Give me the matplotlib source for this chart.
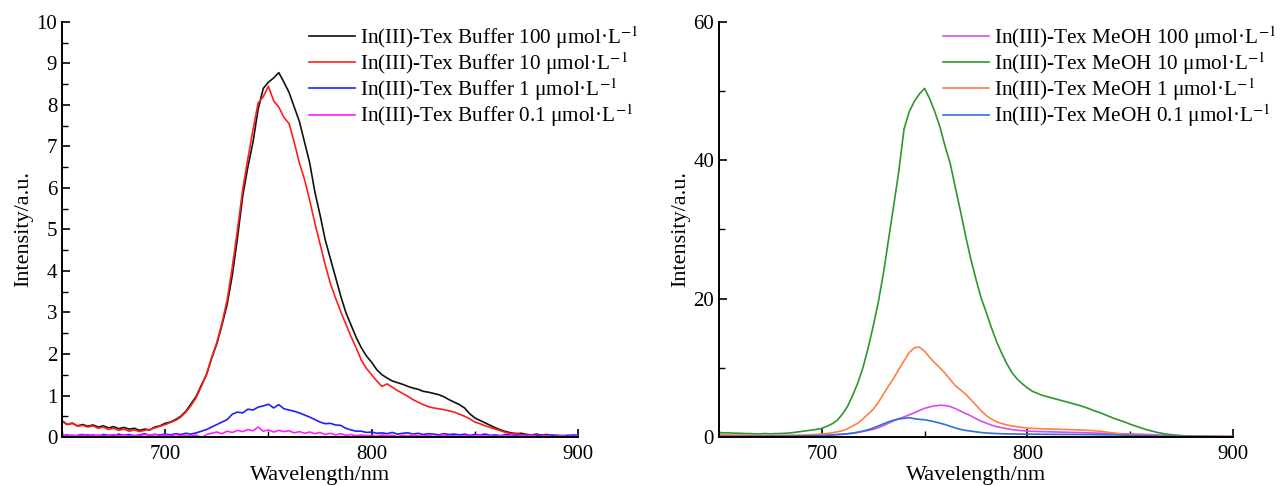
import matplotlib
matplotlib.use("Agg")
import matplotlib.pyplot as plt
import numpy as np
from matplotlib.ticker import MultipleLocator

plt.rcParams["font.family"] = ["Liberation Serif", "DejaVu Serif"]
plt.rcParams["mathtext.fontset"] = "stix"

# wavelength grid, nm
wl = np.arange(650, 900.01, 2.5)

# aqueous buffer spectra
buf_100 = [0.38, 0.30, 0.33, 0.27, 0.30, 0.26, 0.29, 0.24, 0.27, 0.22,
           0.25, 0.20, 0.23, 0.19, 0.21, 0.16, 0.19, 0.17, 0.24, 0.27,
           0.33, 0.36, 0.42, 0.50, 0.62, 0.80, 0.98, 1.25, 1.50, 1.90,
           2.25, 2.70, 3.20, 3.90, 4.80, 5.80, 6.50, 7.10, 7.90, 8.40,
           8.55, 8.65, 8.78, 8.55, 8.30, 7.95, 7.60, 7.10, 6.60, 5.90,
           5.35, 4.75, 4.30, 3.85, 3.40, 3.00, 2.70, 2.40, 2.15, 1.95,
           1.80, 1.62, 1.50, 1.42, 1.35, 1.31, 1.27, 1.22, 1.18, 1.15,
           1.10, 1.08, 1.05, 1.02, 0.97, 0.90, 0.84, 0.78, 0.70, 0.56,
           0.46, 0.40, 0.34, 0.28, 0.22, 0.17, 0.13, 0.10, 0.08, 0.09,
           0.06, 0.05, 0.07, 0.04, 0.06, 0.03, 0.04, 0.02, 0.04, 0.02,
           0.02]
buf_10 = [0.40, 0.30, 0.34, 0.26, 0.28, 0.24, 0.27, 0.21, 0.24, 0.18,
          0.21, 0.16, 0.19, 0.14, 0.17, 0.13, 0.16, 0.18, 0.22, 0.26,
          0.30, 0.35, 0.40, 0.48, 0.60, 0.76, 0.95, 1.22, 1.52, 1.92,
          2.28, 2.75, 3.30, 4.10, 5.00, 5.95, 6.70, 7.40, 8.05, 8.20,
          8.45, 8.10, 7.95, 7.70, 7.55, 7.10, 6.60, 6.20, 5.70, 5.15,
          4.65, 4.15, 3.70, 3.35, 3.02, 2.72, 2.42, 2.15, 1.85, 1.65,
          1.50, 1.35, 1.22, 1.28, 1.20, 1.12, 1.05, 0.98, 0.90, 0.84,
          0.78, 0.73, 0.70, 0.68, 0.66, 0.63, 0.60, 0.55, 0.50, 0.44,
          0.36, 0.32, 0.27, 0.23, 0.19, 0.15, 0.11, 0.08, 0.09, 0.05,
          0.06, 0.04, 0.05, 0.03, 0.04, 0.02, 0.03, 0.02, 0.02, 0.01,
          0.01]
buf_1 = [0.03, 0.05, 0.02, 0.04, 0.06, 0.03, 0.05, 0.02, 0.06, 0.04,
         0.03, 0.07, 0.04, 0.06, 0.03, 0.05, 0.08, 0.04, 0.06, 0.05,
         0.07, 0.05, 0.08, 0.06, 0.09, 0.07, 0.10, 0.14, 0.18, 0.24,
         0.30, 0.36, 0.42, 0.55, 0.60, 0.58, 0.67, 0.65, 0.72, 0.75,
         0.79, 0.70, 0.78, 0.68, 0.65, 0.62, 0.58, 0.53, 0.48, 0.42,
         0.36, 0.32, 0.33, 0.29, 0.28, 0.21, 0.17, 0.14, 0.14, 0.11,
         0.12, 0.09, 0.10, 0.08, 0.11, 0.07, 0.09, 0.10, 0.07, 0.09,
         0.06, 0.08, 0.07, 0.05, 0.08, 0.06, 0.07, 0.05, 0.07, 0.04,
         0.06, 0.05, 0.07, 0.04, 0.05, 0.03, 0.06, 0.04, 0.05, 0.03,
         0.04, 0.05, 0.03, 0.04, 0.02, 0.05, 0.03, 0.04, 0.03, 0.05,
         0.04]
buf_01 = [0.06, 0.03, 0.05, 0.02, 0.04, 0.06, 0.03, 0.05, 0.02, 0.04,
          0.06, 0.03, 0.05, 0.02, 0.04, 0.03, 0.06, 0.04, 0.07, 0.03,
          0.05, 0.02, 0.06, 0.03, 0.04, 0.02, 0.05, -0.02, 0.06, 0.09,
          0.12, 0.08, 0.14, 0.11, 0.16, 0.13, 0.18, 0.15, 0.24, 0.14,
          0.17, 0.12, 0.16, 0.13, 0.15, 0.10, 0.13, 0.09, 0.12, 0.08,
          0.11, 0.06, 0.09, 0.05, 0.08, 0.04, 0.06, 0.03, 0.05, 0.03,
          0.04, 0.02, 0.05, 0.03, 0.04, 0.01, 0.04, 0.02, 0.05, 0.03,
          0.02, 0.04, 0.01, 0.03, 0.05, 0.02, 0.03, 0.01, 0.04, 0.02,
          0.03, 0.05, 0.02, 0.03, 0.01, 0.04, 0.02, 0.03, 0.01, 0.03,
          0.02, 0.04, 0.01, 0.02, 0.03, 0.01, 0.02, 0.03, 0.01, 0.02,
          0.02]

# methanol spectra
meoh_100 = [0.20, 0.20, 0.20, 0.19, 0.19, 0.19, 0.18, 0.18, 0.18, 0.18,
            0.18, 0.18, 0.18, 0.18, 0.19, 0.19, 0.20, 0.21, 0.22, 0.23,
            0.25, 0.27, 0.30, 0.35, 0.40, 0.47, 0.55, 0.65, 0.80, 0.95,
            1.10, 1.35, 1.65, 2.00, 2.35, 2.65, 2.90, 3.20, 3.50, 3.85,
            4.15, 4.35, 4.50, 4.60, 4.55, 4.40, 4.10, 3.75, 3.40, 3.05,
            2.65, 2.30, 2.00, 1.72, 1.50, 1.35, 1.20, 1.08, 0.98, 0.92,
            0.86, 0.82, 0.80, 0.78, 0.76, 0.74, 0.72, 0.70, 0.68, 0.66,
            0.64, 0.62, 0.60, 0.58, 0.56, 0.54, 0.52, 0.50, 0.48, 0.46,
            0.45, 0.42, 0.40, 0.37, 0.34, 0.31, 0.28, 0.25, 0.22, 0.20,
            0.18, 0.16, 0.15, 0.14, 0.13, 0.12, 0.12, 0.11, 0.11, 0.10,
            0.10]
meoh_10 = [0.65, 0.60, 0.60, 0.55, 0.55, 0.50, 0.50, 0.45, 0.45, 0.50,
           0.45, 0.50, 0.50, 0.55, 0.60, 0.70, 0.80, 0.90, 1.00, 1.10,
           1.25, 1.55, 1.90, 2.40, 3.30, 4.40, 6.00, 7.80, 10.0, 12.8,
           16.0, 19.5, 23.7, 28.6, 33.5, 38.5, 44.5, 47.0, 48.5, 49.6,
           50.4, 48.9, 47.0, 44.8, 42.0, 39.5, 36.0, 32.6, 29.0, 25.7,
           22.8, 20.1, 18.0, 15.8, 13.8, 12.1, 10.6, 9.30, 8.40, 7.70,
           7.10, 6.60, 6.30, 6.00, 5.80, 5.60, 5.40, 5.20, 5.00, 4.80,
           4.60, 4.35, 4.10, 3.80, 3.55, 3.25, 2.95, 2.65, 2.40, 2.15,
           1.85, 1.60, 1.35, 1.10, 0.90, 0.70, 0.55, 0.42, 0.33, 0.26,
           0.20, 0.16, 0.13, 0.11, 0.09, 0.08, 0.07, 0.06, 0.05, 0.05,
           0.04]
meoh_1 = [0.30, 0.30, 0.29, 0.28, 0.28, 0.27, 0.27, 0.26, 0.26, 0.25,
          0.25, 0.25, 0.25, 0.25, 0.25, 0.26, 0.28, 0.30, 0.34, 0.38,
          0.45, 0.52, 0.60, 0.75, 0.90, 1.20, 1.60, 2.00, 2.60, 3.30,
          4.00, 5.00, 6.20, 7.40, 8.50, 9.80, 11.0, 12.2, 12.9, 13.0,
          12.4, 11.5, 10.7, 10.0, 9.20, 8.30, 7.40, 6.80, 6.20, 5.40,
          4.60, 3.80, 3.10, 2.60, 2.20, 1.95, 1.75, 1.60, 1.48, 1.38,
          1.30, 1.25, 1.22, 1.19, 1.16, 1.14, 1.12, 1.10, 1.08, 1.05,
          1.02, 1.00, 0.95, 0.90, 0.85, 0.75, 0.65, 0.55, 0.45, 0.40,
          0.35, 0.31, 0.27, 0.24, 0.21, 0.18, 0.16, 0.14, 0.12, 0.11,
          0.10, 0.09, 0.08, 0.07, 0.07, 0.06, 0.06, 0.05, 0.05, 0.05,
          0.05]
meoh_01 = [0.10, 0.10, 0.10, 0.11, 0.11, 0.11, 0.12, 0.12, 0.12, 0.12,
           0.13, 0.13, 0.13, 0.14, 0.14, 0.15, 0.16, 0.17, 0.18, 0.19,
           0.20, 0.25, 0.30, 0.35, 0.40, 0.47, 0.55, 0.70, 0.85, 1.05,
           1.30, 1.60, 1.90, 2.20, 2.45, 2.60, 2.70, 2.80, 2.65, 2.55,
           2.50, 2.35, 2.20, 2.00, 1.80, 1.55, 1.30, 1.10, 0.95, 0.85,
           0.75, 0.65, 0.58, 0.54, 0.50, 0.47, 0.45, 0.44, 0.43, 0.42,
           0.41, 0.40, 0.40, 0.39, 0.39, 0.38, 0.38, 0.37, 0.37, 0.36,
           0.36, 0.35, 0.35, 0.34, 0.33, 0.32, 0.31, 0.30, 0.28, 0.26,
           0.24, 0.22, 0.20, 0.18, 0.16, 0.14, 0.12, 0.11, 0.10, 0.09,
           0.08, 0.07, 0.07, 0.06, 0.06, 0.05, 0.05, 0.05, 0.04, 0.04,
           0.04]

unit = r" μmol·L$^{-1}$"
buf_labels = ["In(III)-Tex Buffer 100" + unit, "In(III)-Tex Buffer 10" + unit,
              "In(III)-Tex Buffer 1" + unit, "In(III)-Tex Buffer 0.1" + unit]
meoh_labels = ["In(III)-Tex MeOH 100" + unit, "In(III)-Tex MeOH 10" + unit,
               "In(III)-Tex MeOH 1" + unit, "In(III)-Tex MeOH 0.1" + unit]
buf_colors = ["#111111", "#ff1e1e", "#2020ff", "#ff20ff"]
meoh_colors = ["#d84cf0", "#2e962e", "#ff8040", "#2f70e0"]

fig = plt.figure(figsize=(12.82, 4.86), dpi=100)
ax1 = fig.add_axes([0.0484, 0.1008, 0.4025, 0.854])
ax2 = fig.add_axes([0.5608, 0.1008, 0.4010, 0.854])


def style(ax, ymax, ymajor, yminor):
    ax.set_xlim(650, 900)
    ax.set_ylim(0, ymax)
    ax.spines["top"].set_visible(False)
    ax.spines["right"].set_visible(False)
    for s in ("left", "bottom"):
        ax.spines[s].set_linewidth(1.4)
    ax.xaxis.set_major_locator(MultipleLocator(100))
    ax.xaxis.set_minor_locator(MultipleLocator(50))
    ax.yaxis.set_major_locator(MultipleLocator(ymajor))
    ax.yaxis.set_minor_locator(MultipleLocator(yminor))
    ax.tick_params(which="major", direction="in", length=6, width=1.2, labelsize=15)
    ax.tick_params(which="minor", direction="in", length=4, width=1.0)
    ax.tick_params(axis="x", which="major", pad=6)
    ax.set_xlabel("Wavelength/nm", fontsize=16, labelpad=1)
    ax.set_ylabel("Intensity/a.u.", fontsize=16, labelpad=2)


def legend(ax, xr):
    ax.legend(loc="upper right", bbox_to_anchor=(xr, 0.968), bbox_transform=fig.transFigure,
              frameon=False, fontsize=15.3, labelspacing=-0.03, handlelength=2.15,
              handletextpad=0.25, borderaxespad=0)


series = [buf_100, buf_10, buf_1, buf_01]
for y, c, lab in zip(series, buf_colors, buf_labels):
    ax1.plot(wl, y, color=c, lw=1.2, label=lab)
style(ax1, 10, 1, 0.5)
legend(ax1, 0.505)

series = [meoh_100, meoh_10, meoh_1, meoh_01]
for y, c, lab in zip(series, meoh_colors, meoh_labels):
    ax2.plot(wl, y, color=c, lw=1.2, label=lab)
style(ax2, 60, 20, 10)
legend(ax2, 1.002)

fig.savefig("out.png", dpi=100)
